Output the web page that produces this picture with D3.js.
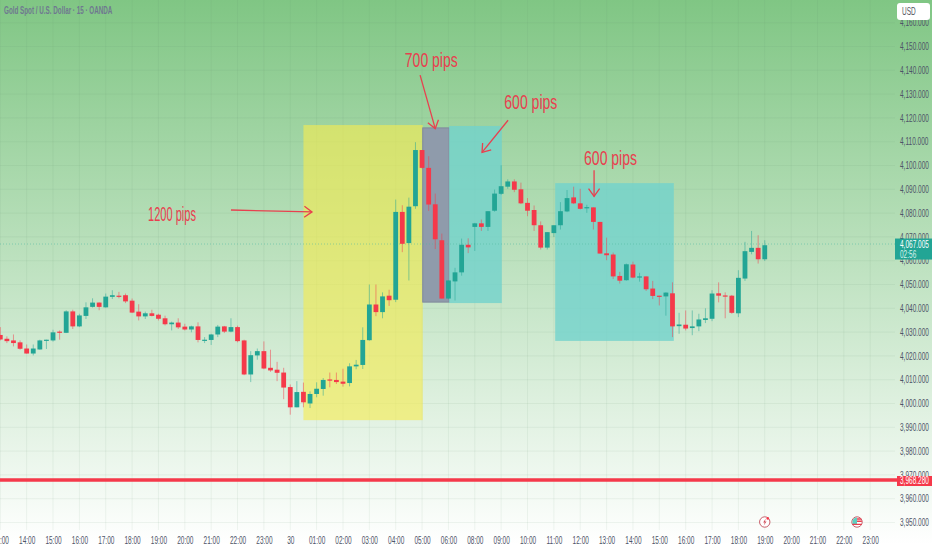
<!DOCTYPE html>
<html><head><meta charset="utf-8">
<script src="https://cdn.jsdelivr.net/npm/d3@7"></script>
<style>html,body{margin:0;padding:0;background:#fff}svg{display:block}text{font-family:"Liberation Sans",sans-serif}</style>
</head><body><div id="c"></div>
<script>
const opens=[4028.8,4027.2,4026.5,4025.7,4023.1,4021.0,4022.7,4026.7,4026.5,4030.2,4029.7,4038.7,4032.4,4036.8,4040.6,4042.4,4040.4,4044.8,4045.3,4045.5,4043.2,4038.6,4036.6,4037.9,4037.3,4035.8,4033.3,4034.0,4032.3,4031.1,4032.4,4026.7,4026.7,4029.0,4032.4,4030.2,4032.1,4026.5,4012.2,4020.2,4022.0,4015.0,4014.2,4013.0,4006.9,3998.4,4004.9,
4000.0,4004.0,4006.1,4010.1,4009.9,4009.2,4008.6,4015.6,4016.2,4026.6,4041.6,4038.4,4045.3,4043.6,4080.5,4067.4,4082.9,4106.5,4099.0,4083.7,4068.6,4044.1,4051.3,4055.1,4066.7,4074.2,4075.7,4074.2,4081.0,4088.1,
4091.1,4093.3,4090.0,4084.3,4081.3,4074.9,4065.5,4071.6,4074.9,4080.7,4086.6,4084.1,4082.2,4082.4,4076.3,4063.1,4062.6,4053.6,4051.8,4058.4,4052.9,4053.4,4048.3,4045.3,4045.0,4046.3,4032.5,4033.1,4031.7,4032.4,4035.1,4035.6,4046.3,4045.4,4045.3,4037.9,4052.5,4063.7,4065.4,4060.6];
const closes=[4026.9,4026.2,4025.4,4023.0,4021.0,4023.1,4026.5,4026.8,4029.9,4029.9,4038.7,4032.4,4037.0,4040.4,4042.4,4040.6,4044.9,4045.5,4045.2,4042.9,4038.2,4036.6,4037.9,4036.8,4035.6,4033.3,4034.0,4032.0,4031.1,4032.4,4026.7,4026.8,4029.0,4032.3,4030.2,4032.1,4026.2,4012.2,4020.3,4022.0,4014.7,4013.9,4012.9,4006.7,3998.4,4004.8,4000.5,
4004.0,4006.2,4009.9,4010.0,4009.0,4008.3,4015.6,4016.3,4026.7,4041.6,4038.4,4045.0,4043.4,4080.5,4067.1,4082.7,4106.5,4099.0,4083.6,4069.0,4044.1,4051.7,4055.1,4066.7,4065.6,4075.7,4074.2,4080.8,4088.2,4091.3,
4093.3,4089.8,4084.1,4081.0,4074.9,4065.5,4072.0,4074.9,4080.8,4086.3,4084.1,4081.8,4082.5,4076.3,4063.0,4062.3,4053.4,4051.6,4058.5,4052.9,4053.4,4048.0,4045.2,4045.2,4046.6,4032.4,4033.2,4031.5,4032.4,4035.3,4035.8,4046.2,4045.3,4045.3,4038.1,4052.8,4064.0,4065.4,4060.6,4066.5];
const highs=[4032.1,4028.2,4029.0,4026.5,4024.8,4024.8,4026.8,4026.8,4031.0,4030.7,4039.2,4039.4,4037.7,4042.5,4044.2,4042.5,4046.2,4047.6,4046.9,4046.2,4044.1,4041.7,4038.6,4039.4,4037.7,4036.9,4034.4,4035.8,4033.5,4032.7,4034.1,4027.9,4029.3,4033.0,4032.6,4035.8,4032.7,4026.8,4022.0,4023.1,4026.1,4022.6,4017.5,4015.0,4008.0,4009.4,4008.8,
4005.1,4008.9,4010.7,4013.0,4013.0,4014.6,4016.9,4018.3,4032.0,4050.0,4050.0,4046.7,4047.8,4085.7,4083.3,4086.5,4109.8,4106.5,4103.9,4088.2,4071.4,4051.7,4057.0,4069.3,4069.4,4075.9,4077.3,4080.8,4089.9,4100.1,
4094.2,4094.2,4092.8,4086.3,4083.2,4076.5,4072.0,4074.9,4084.6,4089.7,4091.1,4090.2,4083.5,4082.4,4076.3,4069.7,4063.4,4055.3,4058.8,4059.6,4054.9,4053.4,4051.5,4045.3,4046.7,4050.9,4038.1,4039.1,4039.1,4037.7,4040.0,4047.6,4050.9,4046.7,4045.6,4056.0,4067.9,4072.5,4070.7,4068.6];
const lows=[4026.5,4025.4,4024.0,4022.6,4020.9,4020.2,4022.6,4022.9,4026.0,4026.8,4029.6,4031.3,4032.1,4035.5,4040.3,4039.2,4040.3,4043.9,4044.2,4042.2,4038.0,4034.9,4035.5,4036.6,4034.9,4032.8,4030.7,4031.3,4030.7,4029.9,4025.7,4025.4,4024.6,4027.9,4029.6,4029.9,4025.7,4011.9,4009.0,4018.4,4014.4,4013.3,4009.4,4001.8,3995.3,3998.4,3998.4,
3998.1,4002.6,4003.3,4006.8,4008.2,4007.1,4007.2,4014.4,4014.5,4026.4,4036.7,4035.8,4041.0,4042.6,4063.6,4051.7,4081.8,4098.7,4080.9,4064.9,4044.1,4043.8,4043.3,4053.7,4063.2,4064.1,4072.5,4072.5,4080.6,4087.7,
4090.2,4088.8,4083.8,4078.7,4072.5,4064.7,4064.7,4070.0,4073.1,4080.4,4083.8,4081.5,4080.1,4073.1,4063.0,4060.2,4052.3,4050.4,4051.6,4052.6,4051.2,4047.3,4043.9,4041.2,4036.9,4027.9,4029.3,4030.7,4028.7,4030.4,4033.8,4034.6,4042.5,4035.8,4037.7,4036.3,4051.5,4062.7,4058.8,4059.9];
const hourLabels=["13:00","14:00","15:00","16:00","17:00","18:00","19:00","20:00","21:00","22:00","23:00","30","01:00","02:00","03:00","04:00","05:00","06:00","08:00","09:00","10:00","11:00","12:00","13:00","14:00","15:00","16:00","17:00","18:00","19:00","20:00","21:00","22:00","23:00"];
const priceTicks=[3950,3960,3970,3980,3990,4000,4010,4020,4030,4040,4050,4060,4070,4080,4090,4100,4110,4120,4130,4140,4150,4160];
const lastPrice=4067.005, supportPrice=3968.28;
const zoneStart=[46,64.1,68.1,84.2], zoneEnd=[64.1,68.1,76.1,102.2];
const zoneTop=[4117,4115.8,4116.6,4092.6], zoneBottom=[3993,4042.6,4042.2,4026.3];
const noteText=["1200 pips","700 pips","600 pips","600 pips"];
const noteAt=[26.05,65.4,80.5,92.6], notePrice=[4076.7,4141.4,4123.7,4100.2];
const arrowFrom=[[35,4081.3],[63.7,4138],[77.05,4119],[90.1,4098]];
const arrowTo=[[47.3,4080.5],[66,4115.5],[73.1,4105.5],[90.1,4087]];

const W=932,H=550;
const x=d3.scaleLinear().domain([0,132]).range([0.3,870.2]);
const y=d3.scaleLinear().domain([3950,4150]).range([522.5,46.5]);
const svg=d3.select("#c").append("svg").attr("width",W).attr("height",H);
const defs=svg.append("defs");
const g=defs.append("linearGradient").attr("id","bg").attr("x1",0).attr("x2",0).attr("y1",0).attr("y2",1);
g.append("stop").attr("offset",0).attr("stop-color","#80c684");
g.append("stop").attr("offset",0.99).attr("stop-color","#ffffff");
svg.append("rect").attr("width",W).attr("height",H).attr("fill","url(#bg)");

// grid
const grid=svg.append("g").attr("stroke","#5f8f6a").attr("stroke-opacity",0.09).attr("stroke-width",1);
grid.selectAll("line.v").data(hourLabels).join("line").attr("x1",(d,i)=>x(i*4)).attr("x2",(d,i)=>x(i*4)).attr("y1",0).attr("y2",530);
grid.selectAll("line.h").data(priceTicks).join("line").attr("x1",0).attr("x2",895).attr("y1",d=>y(d)).attr("y2",d=>y(d));

// zones
const zoneFill=["rgba(246,236,80,.62)","rgb(143,155,171)","rgba(114,210,204,.8)","rgba(114,210,204,.8)"];
const zoneStroke=["none","#808a9c","none","none"];
svg.append("g").selectAll("rect").data(zoneStart).join("rect")
 .attr("x",(d,i)=>x(d)).attr("width",(d,i)=>x(zoneEnd[i])-x(d))
 .attr("y",(d,i)=>y(zoneTop[i])).attr("height",(d,i)=>y(zoneBottom[i])-y(zoneTop[i]))
 .attr("fill",(d,i)=>zoneFill[i]).attr("stroke",(d,i)=>zoneStroke[i]);

// last price dotted line
svg.append("line").attr("x1",0).attr("x2",895).attr("y1",y(lastPrice)).attr("y2",y(lastPrice))
 .attr("stroke","#4fb8a0").attr("stroke-opacity",.55).attr("stroke-dasharray","1 2");

// candles
const UP="#22a595",DOWN="#f5394a";
const idx=d3.range(opens.length), col=i=>closes[i]>=opens[i]?UP:DOWN;
const cg=svg.append("g");
cg.selectAll("line").data(idx).join("line")
 .attr("x1",i=>x(i)).attr("x2",i=>x(i)).attr("y1",i=>y(highs[i])).attr("y2",i=>y(lows[i]))
 .attr("stroke",i=>col(i)).attr("stroke-opacity",.5).attr("stroke-width",1);
cg.selectAll("rect").data(idx).join("rect")
 .attr("x",i=>x(i)-2.4).attr("width",4.8)
 .attr("y",i=>y(Math.max(opens[i],closes[i])))
 .attr("height",i=>Math.max(1.2,Math.abs(y(opens[i])-y(closes[i]))))
 .attr("fill",i=>col(i));

// support line
svg.append("line").attr("x1",0).attr("x2",897).attr("y1",y(supportPrice)+1).attr("y2",y(supportPrice)+1)
 .attr("stroke","#f5394a").attr("stroke-width",3.4);

// arrows
const ARROW="#e8404f";
const ag=svg.append("g").attr("stroke",ARROW).attr("fill","none").attr("stroke-width",1.3);
arrowFrom.forEach((a,i)=>{
  const b=arrowTo[i],x1=x(a[0]),y1=y(a[1]),x2=x(b[0]),y2=y(b[1]);
  const t=Math.atan2(y2-y1,x2-x1),L=9.5,s=0.62;
  ag.append("line").attr("x1",x1).attr("y1",y1).attr("x2",x2).attr("y2",y2);
  ag.append("path").attr("d",d3.line()([[x2-L*Math.cos(t-s),y2-L*Math.sin(t-s)],[x2,y2],[x2-L*Math.cos(t+s),y2-L*Math.sin(t+s)]]));
});
const noteW=[48,53,53,53];
svg.append("g").selectAll("text").data(noteText).join("text").text(d=>d)
 .attr("x",(d,i)=>x(noteAt[i])).attr("y",(d,i)=>y(notePrice[i])).attr("text-anchor","middle")
 .attr("font-size",20.5).attr("fill","#e8404f")
 .attr("textLength",(d,i)=>noteW[i]).attr("lengthAdjust","spacingAndGlyphs");

// axes
const SQUEEZE=0.65;
const axR=svg.append("g").attr("transform","translate(900,0)")
 .call(d3.axisRight(y).tickValues(priceTicks).tickSize(0).tickPadding(0).tickFormat(d3.format(",.3f")));
axR.select(".domain").remove();
axR.selectAll("text").attr("x",0).attr("font-size",10).attr("fill","#4e5468").attr("transform",`scale(${SQUEEZE},1)`);
const axB=svg.append("g").attr("transform","translate(0,534)")
 .call(d3.axisBottom(x).tickValues(hourLabels.map((d,i)=>i*4)).tickSize(0).tickPadding(3).tickFormat(d=>hourLabels[d/4]));
axB.select(".domain").remove();
axB.selectAll("text").attr("font-size",10).attr("fill","#4e5468").attr("transform",`scale(${SQUEEZE},1)`);

// price tags
function tag(yTop,h,fill,rows,xL){
  svg.append("rect").attr("x",xL).attr("y",yTop).attr("width",W-xL).attr("height",h).attr("fill",fill);
  rows.forEach(r=>svg.append("text").attr("transform",`translate(900,${r[1]}) scale(${SQUEEZE},1)`).attr("font-size",10).attr("fill",r[2]||"#fff").text(r[0]));
}
tag(y(lastPrice)-5.5,21,UP,[[d3.format(",.3f")(lastPrice),y(lastPrice)+3.5,"#fff"],["02:56",y(lastPrice)+13.5,"#d8f2ec"]],895);
tag(y(supportPrice)-3,10,"#f5394a",[[d3.format(",.3f")(supportPrice),y(supportPrice)+5,"#fff"]],897);
svg.append("rect").attr("x",897).attr("y",3).attr("width",33).attr("height",17).attr("rx",3).attr("fill","#fff");
svg.append("text").attr("transform",`translate(902,15) scale(${SQUEEZE},1)`).attr("font-size",10).attr("fill","#50535e").text("USD");

// title
svg.append("text").attr("transform","translate(4,14) scale(0.63,1)").attr("font-size",10).attr("fill","#6f7890").attr("font-weight","bold").text("Gold Spot / U.S. Dollar · 15 · OANDA");

// event icons
const ev1=svg.append("g").attr("transform",`translate(${x(116)},522)`);
ev1.append("circle").attr("r",5.2).attr("fill","#fff").attr("stroke","#c8606c");
ev1.append("path").attr("d","M1-3.5L-1.6.4H0L-1 3.5L1.8-.6H.2Z").attr("fill","#d0505c");
ev1.append("circle").attr("cx",3).attr("cy",-3.6).attr("r",1.3).attr("fill","#f5394a");
const ev2=svg.append("g").attr("transform",`translate(${x(130)},522)`);
ev2.append("circle").attr("r",5.2).attr("fill","#fff").attr("stroke","#c8606c");
ev2.append("path").attr("d","M-4.4-1.5A5 5 0 0 1 0-4.6V2H-4.6Z").attr("fill","#5ecfc0");
ev2.append("path").attr("d","M0-3H4.2M0-.8H4.8M-4.6 2.4H4.6").attr("stroke","#e8404f").attr("stroke-width",1.4);
</script></body></html>
